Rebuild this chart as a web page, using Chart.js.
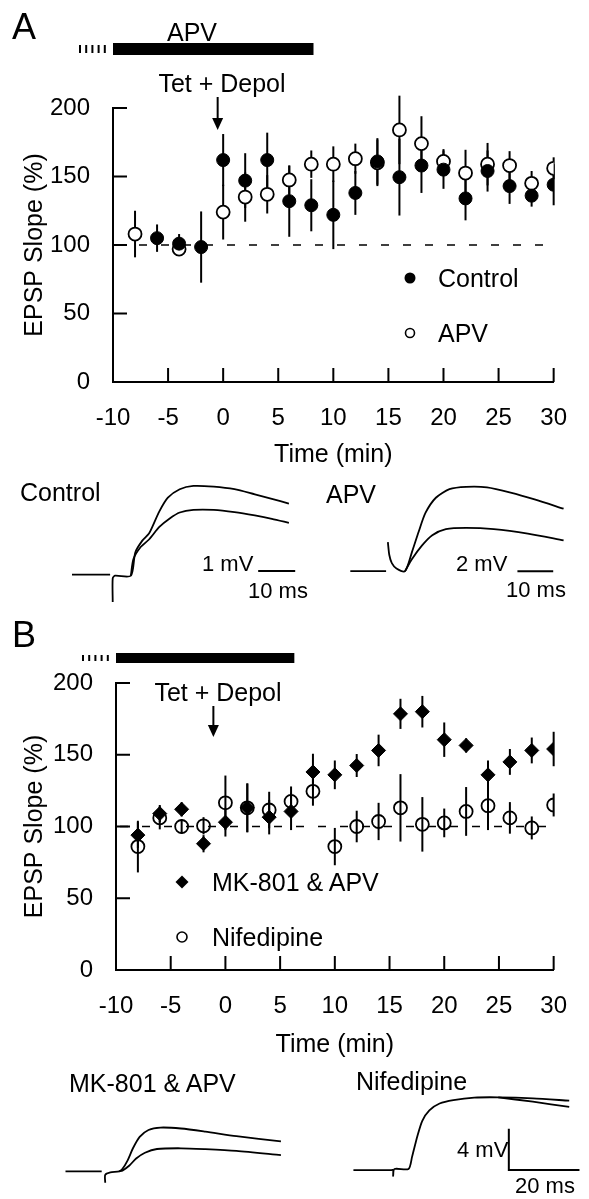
<!DOCTYPE html>
<html>
<head>
<meta charset="utf-8">
<script src="https://cdn.jsdelivr.net/npm/chart.js@4.4.0/dist/chart.umd.min.js"></script>
<style>
  html, body { margin: 0; padding: 0; background: #fff; }
  body { width: 589px; height: 1199px; position: relative; overflow: hidden;
         font-family: "Liberation Sans", Arial, sans-serif; color: #000; }
  canvas { position: absolute; }
  .t { position: absolute; white-space: nowrap; line-height: 1; transform: translateY(-50%); }
  .c { transform: translate(-50%, -50%); }
</style>
</head>
<body>
<canvas id="chartA" width="589" height="480" style="left:0;top:0"></canvas>
<canvas id="traceCtrl" width="250" height="140" style="left:60px;top:470px"></canvas>
<canvas id="traceApv" width="249" height="140" style="left:340px;top:470px"></canvas>
<canvas id="chartB" width="589" height="470" style="left:0;top:600px"></canvas>
<canvas id="traceMk" width="245" height="109" style="left:55px;top:1090px"></canvas>
<canvas id="traceNif" width="249" height="119" style="left:340px;top:1080px"></canvas>

<div class="t" style="left:12px;top:27px;font-size:36px">A</div>
<div class="t c" style="left:192px;top:32px;font-size:25px">APV</div>
<div class="t c" style="left:222px;top:83px;font-size:25px">Tet + Depol</div>
<div class="t" style="left:438px;top:278px;font-size:25px">Control</div>
<div class="t" style="left:438px;top:333px;font-size:25px">APV</div>
<div class="t" style="left:20px;top:492px;font-size:25px">Control</div>
<div class="t" style="left:326px;top:494px;font-size:25px">APV</div>
<div class="t" style="left:202px;top:564px;font-size:22px">1 mV</div>
<div class="t" style="left:248px;top:591px;font-size:22px">10 ms</div>
<div class="t" style="left:456px;top:564px;font-size:22px">2 mV</div>
<div class="t" style="left:506px;top:590px;font-size:22px">10 ms</div>

<div class="t" style="left:12px;top:635px;font-size:36px">B</div>
<div class="t c" style="left:218px;top:692px;font-size:25px">Tet + Depol</div>
<div class="t" style="left:212px;top:882px;font-size:25px">MK-801 &amp; APV</div>
<div class="t" style="left:212px;top:937px;font-size:25px">Nifedipine</div>
<div class="t" style="left:69px;top:1083px;font-size:25px">MK-801 &amp; APV</div>
<div class="t" style="left:356px;top:1081px;font-size:25px">Nifedipine</div>
<div class="t" style="left:457px;top:1150px;font-size:22px">4 mV</div>
<div class="t" style="left:515px;top:1186px;font-size:22px">20 ms</div>

<script>
// panel A: EPSP slope (%) vs time (min)
const timesA = [-8, -6, -4, -2, 0, 2, 4, 6, 8, 10, 12, 14, 16, 18, 20, 22, 24, 26, 28, 30];
const controlA = [null, 105, 101, 98.5, 162, 147, 162, 132, 129, 122, 138, 161, 149.5, 158, 155, 134, 154, 143, 136, 144];
const controlErrA = [null, 10, 7, 26, 19, 20, 20, 26, 19, 25, 16, 17, 28, 20, 14, 16, 15, 13, 8, 15];
const apvA = [108, null, 97, null, 124, 135, 137, 147.5, 159, 159, 163, 160, 184, 174, 161, 152.5, 159, 158, 145, 156];
const apvErrA = [17, null, 5, null, 20, 18, 14, 10.5, 10, 13, 11, 17, 25, 20, 9, 17, 15.5, 10.5, 9, 8];
const drugA = [-10, 8.2];
const tetA = -0.5;

// panel B
const timesB = [-8, -6, -4, -2, 0, 2, 4, 6, 8, 10, 12, 14, 16, 18, 20, 22, 24, 26, 28, 30];
const mkB = [94, 109, 112, 88, 103, 113, 106.5, 110.5, 138, 136, 142.5, 153, 178.5, 180, 160.5, 156.5, 136, 145, 153, 154];
const mkErrB = [9, 6, 5, 6, 10, 17, 12, 13, 12.7, 10, 8, 11, 10.5, 11, 12, 5, 10, 9, 9, 12];
const nifB = [86, 106, 100, 100.5, 116.5, 113, 111.5, 117.5, 124.5, 86, 100, 103.5, 113, 101.5, 102.5, 110.5, 114.5, 106, 99, 115];
const nifErrB = [18, 8, 5, 6, 19, 17, 12.7, 10.4, 10, 13, 11, 13, 23.5, 19, 10, 17, 17, 11, 8, 8];
const drugB = [-10, 6.3];
const tetB = -1.1;

const timeTicks = { min: -10, max: 30, step: 5 };
const slopeTicks = { min: 0, max: 200, step: 50 };

// sample traces, [ms, mV]; null breaks the line
const ctrlUpper = [[0, 0], [10.3, 0], null, [11, -0.74], [11, -0.1], [11.6, -0.03], [15.9, -0.03], [17.1, 0.6], [19, 0.92],
  [20.8, 1.11], [21.7, 1.29], [23.6, 1.71], [25.9, 2.08], [29.1, 2.31], [32.8, 2.4], [38.3, 2.38], [43.9, 2.31],
  [49.4, 2.17], [54, 2.05], [58.6, 1.92]];
const ctrlLower = [[15.9, -0.03], [16.6, 0.42], [18.5, 0.74], [20.8, 0.95], [23.6, 1.29], [26.4, 1.52], [29.1, 1.68],
  [32.8, 1.75], [38.3, 1.75], [43.9, 1.69], [49.4, 1.6], [54, 1.51], [58.6, 1.4]];
const ctrlBar = [[50.3, 0.1], [60.3, 0.1]];

const apvUpper = [[0, 0], [10, 0], null, [10.5, 1.62], [10.9, 0.9], [11.6, 0.45], [12.9, 0.15], [15.3, 0], [17.2, 1.05],
  [19.1, 2.2], [21, 3.25], [23.9, 4.1], [27.7, 4.58], [32.4, 4.71], [38.2, 4.68], [44.8, 4.39], [51.5, 4.01], [59.6, 3.49]];
const apvLower = [[15.3, 0], [17.2, 0.67], [20, 1.43], [22.9, 2.01], [26.7, 2.35], [32.4, 2.42], [40.1, 2.35],
  [49.6, 2.1], [59.6, 1.72]];
const apvBar = [[46.7, 0], [56.7, 0]];

const mkUpper = [[0, 0], [10.25, 0], null, [11.25, -1.1], [11.25, -0.33], [12.7, -0.1], [15.2, 0], [16.1, 0.23],
  [17.6, 1.07], [19.1, 2.23], [21, 3.33], [23.5, 4], [26.9, 4.23], [32.7, 4.14], [39.6, 3.84], [48.4, 3.4], [61, 2.9]];
const mkLower = [[15.2, 0], [16.1, 0.07], [18.1, 0.57], [20, 1.24], [22.5, 1.8], [25.9, 2.16], [32.7, 2.23],
  [39.6, 2.14], [48.4, 1.97], [61, 1.57]];

const nifUpper = [[0, 0], [10.8, 0], [11.25, 0], [11.25, -0.57], [11.6, 0.1], [15.6, 0.1], [16.6, 1.27], [18.1, 3.27],
  [19.5, 4.76], [21.5, 5.77], [24.4, 6.43], [28.3, 6.76], [34.2, 7], [41, 7.03], [50.8, 6.93], [61.1, 6.7]];
const nifLower = [[41, 7.03], [50.8, 6.6], [61.1, 6.1]];
const nifBar = [[44, 4], [44, 0], [64, 0]];

Chart.defaults.font.family = '"Liberation Sans", Arial, sans-serif';
Chart.defaults.color = '#000';

const toPoints = (ts, vs, es) =>
  ts.map((t, i) => ({ x: t, y: vs[i], err: es[i] })).filter((p) => p.y !== null);

function marker(ctx, m) {
  ctx.beginPath();
  if (m.style === 'diamond') {
    ctx.moveTo(m.x - m.r, m.y); ctx.lineTo(m.x, m.y - m.r);
    ctx.lineTo(m.x + m.r, m.y); ctx.lineTo(m.x, m.y + m.r); ctx.closePath();
  } else {
    ctx.arc(m.x, m.y, m.r, 0, Math.PI * 2);
  }
  if (m.open) { ctx.lineWidth = 1.6; ctx.stroke(); } else { ctx.fill(); }
}

const figure = {
  id: 'figure',
  beforeDatasetsDraw(chart, args, o) {
    const { ctx, chartArea } = chart;
    const x = chart.scales.x, y = chart.scales.y;
    ctx.save();
    ctx.strokeStyle = '#000';
    ctx.lineWidth = 1.4;
    ctx.setLineDash([8, 14]);
    const by = y.getPixelForValue(o.baseline);
    ctx.beginPath();
    ctx.moveTo(chartArea.left + 4, by);
    ctx.lineTo(chartArea.right, by);
    ctx.stroke();
    ctx.setLineDash([]);
    ctx.lineWidth = 2;
    chart.data.datasets.forEach((ds) => {
      ds.data.forEach((p) => {
        const px = x.getPixelForValue(p.x);
        ctx.beginPath();
        ctx.moveTo(px, y.getPixelForValue(p.y - p.err));
        ctx.lineTo(px, y.getPixelForValue(p.y + p.err));
        ctx.stroke();
      });
    });
    ctx.restore();
  },
  afterDraw(chart, args, o) {
    const { ctx, chartArea } = chart;
    const x = chart.scales.x, y = chart.scales.y;
    ctx.save();
    ctx.strokeStyle = '#000';
    ctx.fillStyle = '#000';
    ctx.lineWidth = 2;
    // inward tick marks
    ctx.beginPath();
    x.ticks.forEach((t) => {
      if (t.value === x.min) return;
      const px = x.getPixelForValue(t.value);
      ctx.moveTo(px, chartArea.bottom);
      ctx.lineTo(px, chartArea.bottom - 14);
    });
    y.ticks.forEach((t) => {
      if (t.value === y.min) return;
      const py = y.getPixelForValue(t.value);
      ctx.moveTo(chartArea.left, py);
      ctx.lineTo(chartArea.left + 14, py);
    });
    ctx.stroke();
    // drug application bar
    const x0 = x.getPixelForValue(o.drug.range[0]);
    const x1 = x.getPixelForValue(o.drug.range[1]);
    ctx.fillRect(x0, o.drug.top, x1 - x0, o.drug.height);
    for (let i = 0; i < 5; i++) {
      ctx.fillRect(x0 - 34 + i * 6.2, o.drug.top + 2, 2, o.drug.height - 4);
    }
    // Tet + Depol arrow
    const ax = x.getPixelForValue(o.arrow.at);
    ctx.beginPath();
    ctx.moveTo(ax, o.arrow.top);
    ctx.lineTo(ax, o.arrow.tip - 10);
    ctx.stroke();
    ctx.beginPath();
    ctx.moveTo(ax - 5.5, o.arrow.tip - 12);
    ctx.lineTo(ax + 5.5, o.arrow.tip - 12);
    ctx.lineTo(ax, o.arrow.tip);
    ctx.closePath();
    ctx.fill();
    // legend symbols
    o.legend.forEach((m) => marker(ctx, m));
    ctx.restore();
  }
};

function plotOptions(o) {
  return {
    responsive: false,
    animation: false,
    events: [],
    layout: { padding: { top: o.top, right: o.right, left: 0, bottom: 0 } },
    plugins: { legend: { display: false }, tooltip: { enabled: false }, figure: o.fig },
    scales: {
      x: {
        type: 'linear', min: timeTicks.min, max: timeTicks.max,
        ticks: { stepSize: timeTicks.step, font: { size: 24 }, padding: 22, maxRotation: 0, autoSkip: false },
        grid: { display: false, drawTicks: false },
        border: { display: true, color: '#000', width: 2 },
        title: { display: true, text: 'Time (min)', font: { size: 25 }, padding: { top: 0, bottom: 10 } },
        afterFit: (s) => { s.height = o.xHeight; }
      },
      y: {
        min: slopeTicks.min, max: slopeTicks.max,
        ticks: { stepSize: slopeTicks.step, font: { size: 24 }, padding: 23 },
        grid: { display: false, drawTicks: false },
        border: { display: true, color: '#000', width: 2 },
        title: { display: true, text: 'EPSP Slope (%)', font: { size: 25 }, padding: { top: 20, bottom: 0 } },
        afterFit: (s) => { s.width = o.yWidth; }
      }
    }
  };
}

new Chart(document.getElementById('chartA'), {
  type: 'scatter',
  data: {
    datasets: [
      { label: 'Control', data: toPoints(timesA, controlA, controlErrA), pointStyle: 'circle', pointRadius: 6.5,
        pointBackgroundColor: '#000', pointBorderColor: '#000', pointBorderWidth: 1 },
      { label: 'APV', data: toPoints(timesA, apvA, apvErrA), pointStyle: 'circle', pointRadius: 6.5,
        pointBackgroundColor: '#fff', pointBorderColor: '#000', pointBorderWidth: 1.8 }
    ]
  },
  options: plotOptions({
    top: 108, right: 29, xHeight: 98, yWidth: 113,
    fig: {
      baseline: 100,
      drug: { range: drugA, top: 43, height: 12 },
      arrow: { at: tetA, top: 97, tip: 130 },
      legend: [
        { style: 'circle', x: 410, y: 278, r: 5.5 },
        { style: 'circle', x: 410, y: 333, r: 4.5, open: true }
      ]
    }
  }),
  plugins: [figure]
});

new Chart(document.getElementById('chartB'), {
  type: 'scatter',
  data: {
    datasets: [
      { label: 'MK-801 & APV', data: toPoints(timesB, mkB, mkErrB), pointStyle: 'rectRot', pointRadius: 7,
        pointBackgroundColor: '#000', pointBorderColor: '#000', pointBorderWidth: 1 },
      { label: 'Nifedipine', data: toPoints(timesB, nifB, nifErrB), pointStyle: 'circle', pointRadius: 6.5,
        pointBackgroundColor: 'rgba(0,0,0,0)', pointBorderColor: '#000', pointBorderWidth: 1.8 }
    ]
  },
  options: plotOptions({
    top: 83, right: 27, xHeight: 100, yWidth: 116,
    fig: {
      baseline: 100,
      drug: { range: drugB, top: 53, height: 10 },
      arrow: { at: tetB, top: 106, tip: 137 },
      legend: [
        { style: 'diamond', x: 182, y: 282, r: 6.5 },
        { style: 'circle', x: 182, y: 337, r: 5, open: true }
      ]
    }
  }),
  plugins: [figure]
});

const toXY = (p) => (p ? { x: p[0], y: p[1] } : { x: null, y: null });

function traceChart(id, lines, bar, range) {
  const datasets = lines.map((pts) => ({
    data: pts.map(toXY), showLine: true, borderColor: '#000', borderWidth: 1.8,
    pointRadius: 0, tension: 0.25, spanGaps: false
  }));
  if (bar) {
    datasets.push({ data: bar.map(toXY), showLine: true, borderColor: '#000', borderWidth: 2, pointRadius: 0, tension: 0 });
  }
  new Chart(document.getElementById(id), {
    type: 'scatter',
    data: { datasets },
    options: {
      responsive: false, animation: false, events: [],
      layout: { padding: 0 },
      plugins: { legend: { display: false }, tooltip: { enabled: false } },
      scales: {
        x: { type: 'linear', display: false, min: range[0], max: range[1] },
        y: { display: false, min: range[2], max: range[3] }
      }
    }
  });
}

traceChart('traceCtrl', [ctrlUpper, ctrlLower], ctrlBar, [-3.24, 64.3, -0.957, 2.83]);
traceChart('traceApv', [apvUpper, apvLower], apvBar, [-2.88, 66.7, -2.17, 5.65]);
traceChart('traceMk', [mkUpper, mkLower], null, [-2.97, 66.4, -2.67, 7.86]);
traceChart('traceNif', [nifUpper, nifLower], nifBar, [-3.8, 66.7, -2.8, 8.7]);
</script>
</body>
</html>
